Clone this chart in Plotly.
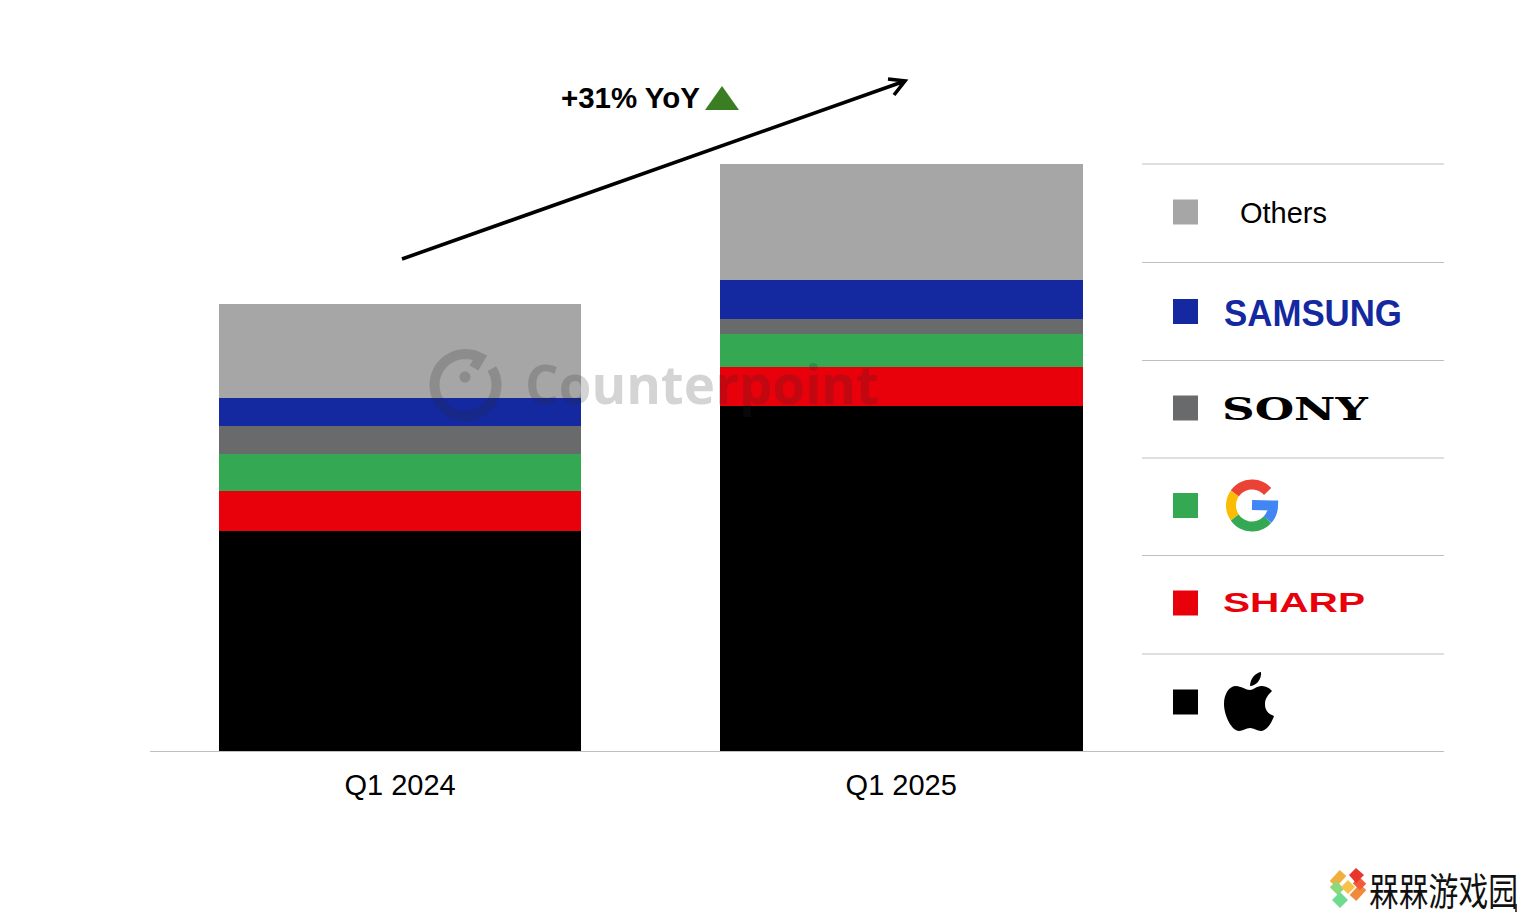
import json
import numpy as np
import plotly.graph_objects as go

# ---- data (index, Q1 2024 total = 100)
categories = ["Q1 2024", "Q1 2025"]
brands = ["Apple", "Sharp", "Google", "Sony", "Samsung", "Others"]
apple = [49.2, 77.2]
sharp = [8.9, 8.7]
google = [8.3, 7.4]
sony = [6.3, 3.4]
samsung = [6.3, 8.7]
others = [21.0, 25.9]
series_values = [apple, sharp, google, sony, samsung, others]
colors = ["#000000", "#E8000B", "#34A853", "#696A6C", "#1428A0", "#A6A6A6"]
growth_label = "+31% YoY"
watermark = "Counterpoint"
site_label = "槑槑游戏园"

W, H = 1524, 915
BASE_Y, LEFT, RIGHT = 751, 150, 1444
PX_PER_UNIT = 4.47
FONT = "Liberation Sans"

fig = go.Figure()
for name, vals, col in zip(brands, series_values, colors):
    fig.add_trace(go.Bar(name=name, x=[0, 1], y=vals, width=0.7236,
                         marker=dict(color=col, line=dict(width=0)),
                         showlegend=False, hoverinfo="skip"))

# legend squares on a page-sized overlay axis
legend_y = dict(Others=212, Samsung=311.5, Sony=408, Google=505.5, Sharp=603, Apple=702)
fig.add_trace(go.Scatter(
    x=[1185.5] * 6, y=[legend_y[b] for b in brands], mode="markers",
    marker=dict(symbol="square", size=25, color=colors, line=dict(width=0)),
    xaxis="x2", yaxis="y2", showlegend=False, hoverinfo="skip"))

shapes = []


def stroke(path, color, width, layer="above"):
    shapes.append(dict(type="path", xref="x2", yref="y2", path=path, layer=layer,
                       line=dict(color=color, width=width)))


def fill(path, color, opacity=1):
    shapes.append(dict(type="path", xref="x2", yref="y2", path=path, layer="above",
                       fillcolor=color, opacity=opacity, line=dict(width=0)))


def arc(cx, cy, r, a0, a1, n=24):
    a = np.radians(np.linspace(a0, a1, n))
    pts = [f"{cx + r*np.cos(t):.2f},{cy + r*np.sin(t):.2f}" for t in a]
    return "M" + " L".join(pts)


# legend separators
for y in [164, 262.5, 360.5, 458, 555.5, 654]:
    shapes.append(dict(type="line", xref="x2", yref="y2", x0=1142, x1=1444, y0=y, y1=y,
                       line=dict(color="#BFBFBF", width=1.2), layer="below"))

# growth arrow and triangle
stroke("M402,259 L905,81 M888,79 L905,81 L894,95", "#000000", 3.6)
fill("M705,110 L739,110 L722,86 Z", "#3A7D22")

# watermark ring
wm = "rgba(40,40,40,0.2)"
stroke(arc(465.5, 385, 31, -32, 298, 60) + " L474,368", wm, 10)
fill(arc(465, 377, 5.5, 0, 360, 24) + " Z", wm)

# Google G
gc, gy, gr = 1252, 505.5, 21
stroke(arc(gc, gy, gr, -42, -145), "#EA4335", 10)
stroke(arc(gc, gy, gr, -145, -215), "#FBBC05", 10)
stroke(arc(gc, gy, gr, -215, -318), "#34A853", 10)
stroke(arc(gc, gy, gr, 42, 0, 10) + " L1252,505", "#4285F4", 10)

# Apple
fill("M1250,690 C1246,690 1241,686 1236,686 C1229,686 1224,694 1224,704 "
     "C1224,716 1232,731 1239,731 C1243,731 1246,728 1250,728 C1254,728 1257,731 1261,731 "
     "C1267,731 1272,722 1274,716 C1268,714 1265,710 1265,704 C1265,698 1269,694 1272,691 "
     "C1269,687 1264,686 1261,686 C1257,686 1253,690 1250,690 Z", "#000000")
fill("M1250,686 C1250,679 1255,673 1261,672 C1262,679 1256,686 1250,686 Z", "#000000")

# site logo
stroke("M1343,873 L1333,884", "#F0B040", 9)
stroke("M1333,884 L1341,892", "#8ED87C", 9)
stroke("M1363,887 L1353,898", "#F08A3C", 9)
stroke("M1363,887 L1356,880", "#F25A3A", 9)
fill("M1356,868 L1364,875 L1356,883 L1349,875 Z", "#E8352E")
fill("M1348,880 L1355,887 L1348,894 L1341,887 Z", "#F7C24A")
fill("M1340,892 L1348,900 L1340,908 L1332,900 Z", "#6FDB8F")
stroke("M1516,904 L1516,912", "#111111", 1.5)


def note(x, y, text, size, color="#000000", family=FONT, bold=False, anchor="left"):
    t = f"<b>{text}</b>" if bold else text
    return dict(x=x, y=y, xref="x2", yref="y2", text=t, showarrow=False, xanchor=anchor,
                yanchor="middle", font=dict(family=family, size=size, color=color),
                borderpad=0, borderwidth=0)


annotations = [
    note(561, 98, growth_label, 29, bold=True),
    note(1240, 213, "Others", 29),
    note(1225, 313, "SAMSUNG", 37, "#1428A0", bold=True),
    note(1224, 409, "SONY", 31, "#000000", "DejaVu Serif", bold=True),
    note(1224, 603, "SHARP", 27, "#E8000B", bold=True),
    note(527, 383, watermark, 54, wm, "Open Sans", bold=True),
    note(1300, 888, site_label, 38, "#111111", "Noto Sans CJK SC"),
]

fig.update_layout(
    width=W, height=H, autosize=False, barmode="stack",
    margin=dict(l=0, r=0, t=0, b=0), paper_bgcolor="#FFFFFF", plot_bgcolor="rgba(0,0,0,0)",
    font=dict(family=FONT, color="#000000"),
    bargap=0,
    xaxis=dict(domain=[LEFT / W, RIGHT / W], range=[-0.499, 2.083], tickmode="array",
               tickvals=[0, 1], ticktext=categories, tickfont=dict(size=29, family=FONT, color="#000000"),
               showgrid=False, zeroline=False, showline=True, linecolor="#BFBFBF", linewidth=1.2,
               ticks="", ticklen=0, ticklabelstandoff=8, anchor="y"),
    yaxis=dict(domain=[(H - BASE_Y) / H, 1], range=[0, BASE_Y / PX_PER_UNIT], visible=False,
               showgrid=False, zeroline=False, anchor="x"),
    xaxis2=dict(domain=[0, 1], range=[0, W], visible=False, anchor="y2"),
    yaxis2=dict(domain=[0, 1], range=[H, 0], visible=False, anchor="x2"),
    shapes=shapes, annotations=annotations,
)

# left edge and glyph width (px) of the logo-style words
stretch = {"SAMSUNG": [1224, 178], "SONY": [1222, 147], "SHARP": [1223, 142],
           "Counterpoint": [525, 354], "槑槑游戏园": [1369, 149], "+31% YoY": [561, 139]}
post = """
document.documentElement.style.margin='0';document.body.style.margin='0';
document.documentElement.style.overflow='hidden';
var st=%s;
document.querySelectorAll('.annotation-text').forEach(function(t){
  var w=st[t.textContent];
  if(w){
    var r=t.getBoundingClientRect(), b=t.getBBox();
    var sx=w[1]/r.width, parent=r.left-b.x, tx=w[0]-parent-sx*b.x;
    t.setAttribute('transform','translate('+tx+',0) scale('+sx+',1)');
  }
});
""" % json.dumps(stretch, ensure_ascii=False)

fig.write_html("out.html", post_script=post, config=dict(displayModeBar=False))
